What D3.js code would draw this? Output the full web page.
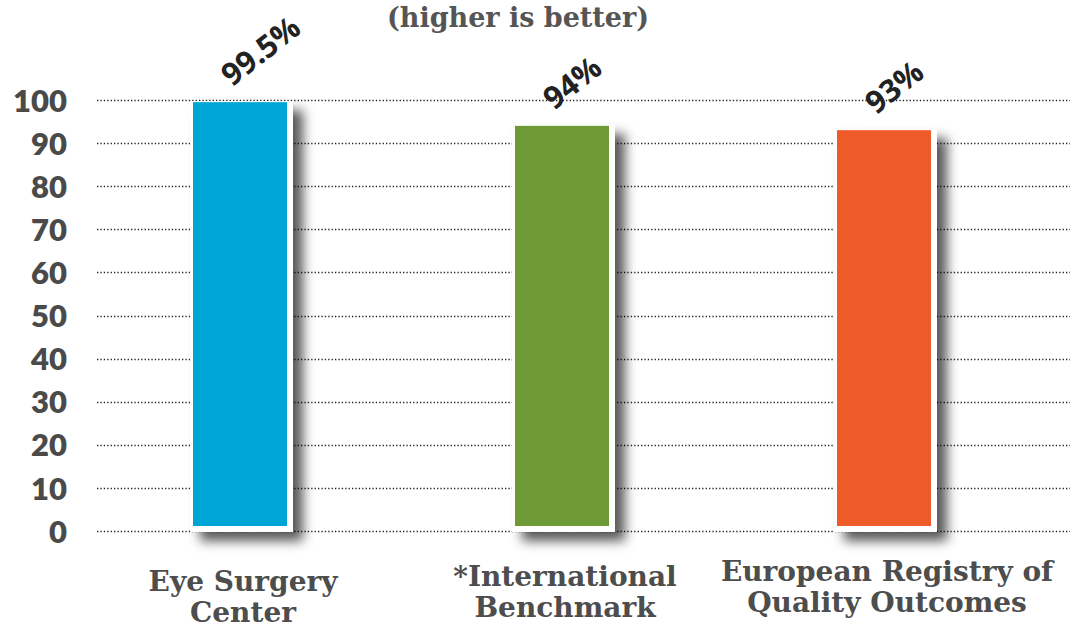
<!DOCTYPE html>
<html>
<head>
<meta charset="utf-8">
<script src="https://cdn.jsdelivr.net/npm/d3@7"></script>
<style>
  html, body { margin: 0; padding: 0; background: #fff; }
  svg { display: block; }
</style>
</head>
<body>
<svg id="chart" width="1070" height="629"></svg>
<script>
const categories = [
  ["Eye Surgery", "Center"],
  ["*International", "Benchmark"],
  ["European Registry of", "Quality Outcomes"]
];
const values = [99.5, 94, 93];
const valueLabels = ["99.5%", "94%", "93%"];
const barColors = ["#00a6d5", "#6e9a36", "#ef5a29"];
const yTicks = [0, 10, 20, 30, 40, 50, 60, 70, 80, 90, 100];
const subtitle = "(higher is better)";

const svg = d3.select("#chart");
const W = 1070, H = 629;

const y = d3.scaleLinear().domain([0, 100]).range([531, 100]);
const x = d3.scalePoint().domain(d3.range(categories.length)).range([240, 884]);
const barW = 94;

const defs = svg.append("defs");
const f = defs.append("filter").attr("id", "shadow")
  .attr("x", "-30%").attr("y", "-10%").attr("width", "160%").attr("height", "130%");
f.append("feDropShadow").attr("dx", 10).attr("dy", 9).attr("stdDeviation", 6)
  .attr("flood-color", "#000").attr("flood-opacity", 0.65);

// gridlines
const grid = svg.append("g");
grid.selectAll("line").data(yTicks).join("line")
  .attr("x1", 97).attr("x2", W)
  .attr("y1", d => Math.round(y(d)) + 0.5).attr("y2", d => Math.round(y(d)) + 0.5)
  .attr("stroke", "#222").attr("stroke-width", 1.3)
  .attr("stroke-dasharray", "1.3,2.1");

// y axis labels
const yAxis = d3.axisLeft(y).tickValues(yTicks).tickSize(0).tickPadding(0);
const ax = svg.append("g").attr("transform", "translate(67,0)").call(yAxis);
ax.select(".domain").remove();
ax.selectAll("text")
  .attr("font-family", "Lato, 'Open Sans', sans-serif")
  .attr("font-weight", 800).attr("font-size", 31)
  .attr("fill", "#4a4a4a").attr("dy", "0.36em");

// bars
const bars = svg.append("g").selectAll("g").data(values).join("g");
bars.append("rect")
  .attr("x", (d, i) => x(i) - barW / 2 - 3)
  .attr("y", d => y(d) - 1)
  .attr("width", barW + 9)
  .attr("height", d => y(0) - y(d) + 2)
  .attr("fill", "#fff")
  .attr("filter", "url(#shadow)");
bars.append("rect")
  .attr("x", (d, i) => x(i) - barW / 2)
  .attr("y", d => y(d))
  .attr("width", barW)
  .attr("height", d => y(0) - y(d) - 5)
  .attr("fill", (d, i) => barColors[i]);

// value labels
svg.append("g").selectAll("text").data(values).join("text")
  .attr("transform", (d, i) => `translate(${x(i) - 8},${y(d) - 15}) rotate(-38)`)
  .attr("font-family", "'Open Sans', sans-serif")
  .attr("font-weight", 700).attr("font-size", 31)
  .attr("fill", "#222")
  .text((d, i) => valueLabels[i]);

// category labels
const catBase = [591, 586, 581];
const cat = svg.append("g").selectAll("text").data(categories).join("text")
  .attr("text-anchor", "middle")
  .attr("font-family", "'DejaVu Serif', serif")
  .attr("font-weight", 700).attr("font-size", 28)
  .attr("fill", "#4d4d4d")
  .attr("transform", (d, i) => `translate(${x(i) + 3},${catBase[i]})`);
cat.selectAll("tspan").data(d => d).join("tspan")
  .attr("x", 0).attr("dy", (d, j) => j === 0 ? 0 : 31)
  .text(d => d);

// subtitle
svg.append("text")
  .attr("x", 518).attr("y", 27)
  .attr("text-anchor", "middle")
  .attr("font-family", "'DejaVu Serif', serif")
  .attr("font-weight", 700).attr("font-size", 27)
  .attr("fill", "#555")
  .text(subtitle);
</script>
</body>
</html>
